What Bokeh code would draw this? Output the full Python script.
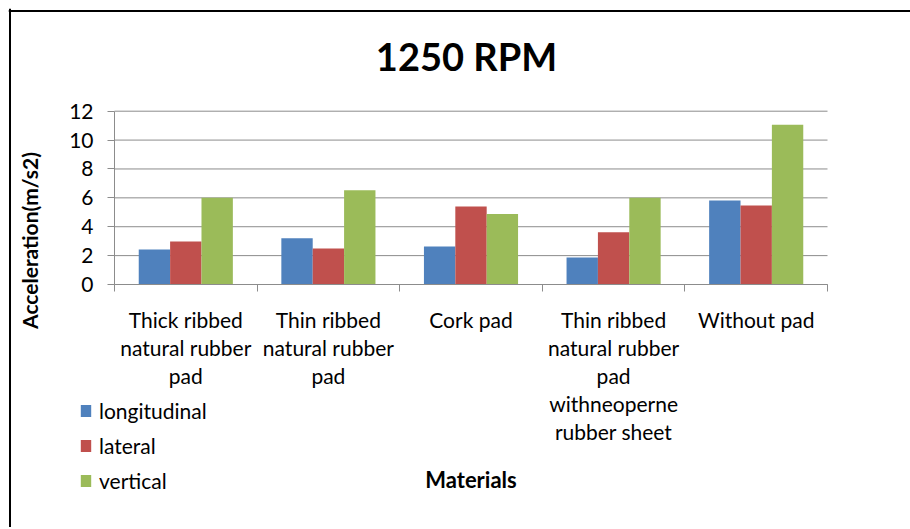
import numpy as np
from bokeh.plotting import figure
from bokeh.models import (FixedTicker, Legend, LegendItem, Range1d, ColumnDataSource,
                          Label, Span)
from bokeh.transform import dodge
from bokeh.embed import file_html
from bokeh.resources import INLINE

# ---- data ----
materials = [
    "Thick ribbed\nnatural rubber\npad",
    "Thin ribbed\nnatural rubber\npad",
    "Cork pad",
    "Thin ribbed\nnatural rubber\npad\nwithneoperne\nrubber sheet",
    "Without pad",
]
longitudinal = [2.42, 3.21, 2.63, 1.87, 5.82]
lateral = [2.98, 2.49, 5.40, 3.62, 5.47]
vertical = [6.00, 6.53, 4.89, 6.00, 11.06]
series_names = ["longitudinal", "lateral", "vertical"]
y_ticks = [0, 2, 4, 6, 8, 10, 12]
title_text = "1250 RPM"
x_title = "Materials"
y_title = "Acceleration(m/s2)"

# ---- layout / styles (pixel targets on the page) ----
FONT = "Lato"
colors = ["#4F81BD", "#C0504D", "#9BBB59"]
grid_color = "#8C8C8C"
bar_w = 0.22
W, H = 902, 519
canvas_x0, canvas_y0 = 8, 8            # page position of the canvas (= frame)
axis_x_px, axis_y_px = 114, 284         # where x=0 and y=0 sit
cat_right_px, grid_top_px = 827, 110.7  # where x=n and y=y_max sit
title_px = (466, 55)
ylabel_px = (29, 240)
border_px = (9.5, 10.5)                 # outer chart border (left x, top y)

n = len(materials)
y_max = y_ticks[-1]
cat_px = (cat_right_px - axis_x_px) / n
ppu = (axis_y_px - grid_top_px) / y_max


def to_x(px):
    return (px - axis_x_px) / cat_px


def to_y(py):
    return (axis_y_px - py) / ppu


centers = (np.arange(n) + 0.5).tolist()
src = ColumnDataSource(dict(x=centers, longitudinal=longitudinal,
                            lateral=lateral, vertical=vertical))

p = figure(width=W, height=H, output_backend="svg", toolbar_location=None,
           x_range=Range1d(to_x(canvas_x0), to_x(canvas_x0 + W)),
           y_range=Range1d(to_y(canvas_y0 + H), to_y(canvas_y0)),
           min_border=0)
p.styles = {"margin-left": "8px", "margin-top": "8px"}
p.outline_line_color = None
p.background_fill_color = "white"
p.border_fill_color = "white"

# outer chart border (left and top edges)
p.add_layout(Span(location=to_x(border_px[0]), dimension="height",
                  line_color="black", line_width=2))
p.add_layout(Span(location=to_y(border_px[1]), dimension="width",
                  line_color="black", line_width=2))

# horizontal gridlines spanning only the category area
p.xgrid.grid_line_color = None
p.ygrid.grid_line_color = None
p.segment(x0=[0] * len(y_ticks), x1=[n] * len(y_ticks), y0=y_ticks, y1=y_ticks,
          line_color=grid_color, line_width=1)

renderers = []
offsets = [-bar_w, 0.0, bar_w]
for name, col, off in zip(series_names, colors, offsets):
    r = p.vbar(x=dodge("x", off, range=p.x_range), top=name, width=bar_w,
               source=src, fill_color=col, line_color=None)
    renderers.append(r)

# title and y label as text labels
p.add_layout(Label(x=to_x(title_px[0]), y=to_y(title_px[1]), text=title_text,
                   text_align="center", text_baseline="middle",
                   text_font=FONT, text_font_size="38px", text_font_style="bold",
                   text_color="black"))
p.add_layout(Label(x=to_x(ylabel_px[0]), y=to_y(ylabel_px[1]), text=y_title,
                   angle=np.pi / 2, text_align="center", text_baseline="middle",
                   text_font=FONT, text_font_size="21px", text_font_style="bold",
                   text_color="black"))

# y axis fixed at x=0
yax = p.yaxis[0]
yax.fixed_location = 0
yax.bounds = (0, y_max)
yax.ticker = FixedTicker(ticks=y_ticks)
yax.minor_tick_line_color = None
yax.major_tick_out = 7
yax.major_tick_in = 0
yax.major_tick_line_color = grid_color
yax.axis_line_color = grid_color
yax.major_label_text_font = FONT
yax.major_label_text_font_size = "21px"
yax.major_label_text_color = "black"
yax.major_label_standoff = 14

# x axis fixed at y=0: boundary ticks as minor ticks, labels at centers
xax = p.xaxis[0]
xax.fixed_location = 0
xax.bounds = (0, n)
xax.ticker = FixedTicker(ticks=centers, minor_ticks=list(range(n + 1)))
xax.major_label_overrides = {c: m for c, m in zip(centers, materials)}
xax.major_tick_line_color = None
xax.major_tick_out = 0
xax.minor_tick_out = 7
xax.minor_tick_in = 0
xax.minor_tick_line_color = grid_color
xax.axis_line_color = grid_color
xax.major_label_text_font = FONT
xax.major_label_text_font_size = "21px"
xax.major_label_text_color = "black"
xax.major_label_text_line_height = 1.12
xax.major_label_standoff = 15
xax.axis_label = x_title
xax.axis_label_text_font = FONT
xax.axis_label_text_font_size = "22px"
xax.axis_label_text_font_style = "bold"
xax.axis_label_text_color = "black"
xax.axis_label_standoff = 19

legend = Legend(items=[LegendItem(label=nm, renderers=[r]) for nm, r in zip(series_names, renderers)],
                location=(71, 34), orientation="vertical",
                label_text_font=FONT, label_text_font_size="21px",
                label_text_color="black", glyph_width=13, glyph_height=15,
                label_height=25, spacing=10, padding=0, margin=0,
                label_standoff=7, border_line_color=None,
                background_fill_alpha=0)
p.add_layout(legend, "center")

open("out.html", "w").write(file_html(p, INLINE))
